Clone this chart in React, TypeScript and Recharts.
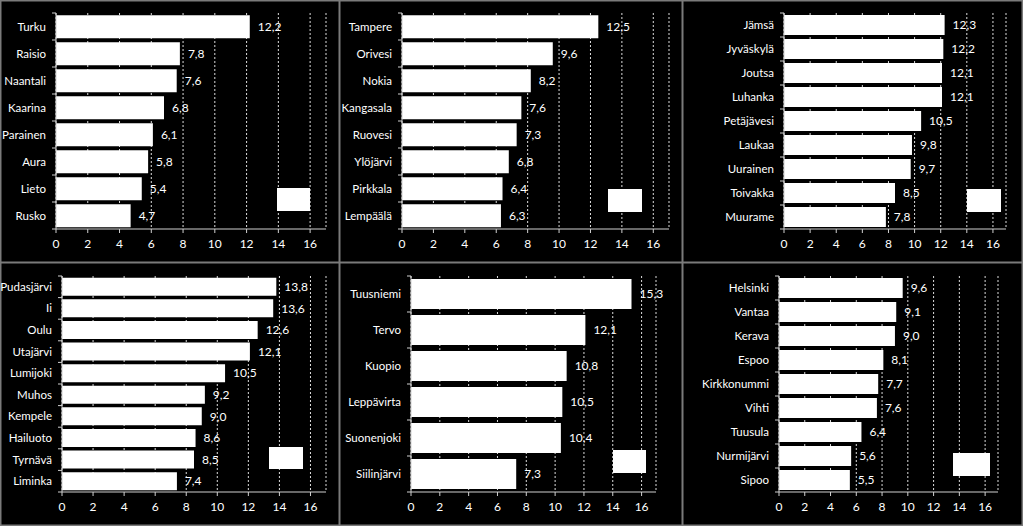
import { BarChart, Bar, XAxis, YAxis, CartesianGrid, LabelList, Legend } from 'recharts'

const turkuNames = ['Turku', 'Raisio', 'Naantali', 'Kaarina', 'Parainen', 'Aura', 'Lieto', 'Rusko']
const turkuValues = [12.2, 7.8, 7.6, 6.8, 6.1, 5.8, 5.4, 4.7]

const tampereNames = ['Tampere', 'Orivesi', 'Nokia', 'Kangasala', 'Ruovesi', 'Ylöjärvi', 'Pirkkala', 'Lempäälä']
const tampereValues = [12.5, 9.6, 8.2, 7.6, 7.3, 6.8, 6.4, 6.3]

const jyvaskylaNames = ['Jämsä', 'Jyväskylä', 'Joutsa', 'Luhanka', 'Petäjävesi', 'Laukaa', 'Uurainen', 'Toivakka', 'Muurame']
const jyvaskylaValues = [12.3, 12.2, 12.1, 12.1, 10.5, 9.8, 9.7, 8.5, 7.8]

const ouluNames = ['Pudasjärvi', 'Ii', 'Oulu', 'Utajärvi', 'Lumijoki', 'Muhos', 'Kempele', 'Hailuoto', 'Tyrnävä', 'Liminka']
const ouluValues = [13.8, 13.6, 12.6, 12.1, 10.5, 9.2, 9.0, 8.6, 8.5, 7.4]

const kuopioNames = ['Tuusniemi', 'Tervo', 'Kuopio', 'Leppävirta', 'Suonenjoki', 'Siilinjärvi']
const kuopioValues = [15.3, 12.1, 10.8, 10.5, 10.4, 7.3]

const helsinkiNames = ['Helsinki', 'Vantaa', 'Kerava', 'Espoo', 'Kirkkonummi', 'Vihti', 'Tuusula', 'Nurmijärvi', 'Sipoo']
const helsinkiValues = [9.6, 9.1, 9.0, 8.1, 7.7, 7.6, 6.4, 5.6, 5.5]

const xTicks = [0, 2, 4, 6, 8, 10, 12, 14, 16]
const xDomain = [0, 17]

const FONT = 'Lato, "Open Sans", sans-serif'
const AXIS = '#d0d0d0'

const panels = [
  { names: turkuNames, values: turkuValues, left: 0, top: 0, width: 340, height: 263, yWidth: 56, mr: 14, mt: 13, mb: 10, legend: { left: 277, top: 188, width: 33, height: 23 } },
  { names: tampereNames, values: tampereValues, left: 339, top: 0, width: 344, height: 263, yWidth: 63, mr: 14, mt: 13, mb: 10, legend: { left: 269, top: 189, width: 34, height: 23 } },
  { names: jyvaskylaNames, values: jyvaskylaValues, left: 682, top: 0, width: 341, height: 263, yWidth: 102, mr: 17, mt: 13, mb: 10, legend: { left: 285, top: 189, width: 34, height: 23 } },
  { names: ouluNames, values: ouluValues, left: 0, top: 262, width: 340, height: 264, yWidth: 62, mr: 14, mt: 14, mb: 10, legend: { left: 269, top: 185, width: 34, height: 22 } },
  { names: kuopioNames, values: kuopioValues, left: 339, top: 262, width: 344, height: 264, yWidth: 72, mr: 27, mt: 14, mb: 10, legend: { left: 274, top: 188, width: 33, height: 23 } },
  { names: helsinkiNames, values: helsinkiValues, left: 682, top: 262, width: 341, height: 264, yWidth: 97, mr: 25, mt: 14, mb: 10, legend: { left: 271, top: 191, width: 37, height: 23 } },
]

const fmt = (v: any) => Number(v).toFixed(1).replace('.', ',')

// category label plus Excel-style tick marks on the band boundaries
function CatTick(props: any) {
  const { x, y, payload, index, visibleTicksCount } = props
  const half = payload?.offset ?? 0
  return (
    <g>
      <line x1={x - 4} x2={x} y1={y - half} y2={y - half} stroke={AXIS} />
      {index === visibleTicksCount - 1 && (
        <line x1={x - 4} x2={x} y1={y + half} y2={y + half} stroke={AXIS} />
      )}
      <text x={x - 10} y={y} dy="0.35em" textAnchor="end" fill="#fff" fontSize={11.5} fontFamily={FONT}>
        {payload.value}
      </text>
    </g>
  )
}

function Panel({ p }: { p: (typeof panels)[number] }) {
  const data = p.names.map((name, i) => ({ name, value: p.values[i] }))
  return (
    <div
      style={{
        position: 'absolute',
        left: p.left,
        top: p.top,
        width: p.width,
        height: p.height,
        boxShadow: 'inset 0 0 0 1.5px #7a7a7a',
      }}
    >
      <BarChart
        width={p.width}
        height={p.height}
        data={data}
        layout="vertical"
        barCategoryGap="8%"
        margin={{ top: p.mt, right: p.mr, bottom: p.mb, left: 0 }}
      >
        <CartesianGrid horizontal={false} stroke="#dcdcdc" strokeDasharray="2 2" />
        <XAxis
          type="number"
          domain={xDomain}
          ticks={xTicks}
          interval={0}
          height={24}
          stroke={AXIS}
          tickSize={4}
          tickMargin={6}
          tick={{ fill: '#fff', fontSize: 12, fontFamily: FONT }}
        />
        <YAxis
          type="category"
          dataKey="name"
          width={p.yWidth}
          stroke={AXIS}
          tickLine={false}
          tickSize={0}
          tickMargin={0}
          interval={0}
          tick={<CatTick />}
        />
        <Legend
          layout="horizontal"
          verticalAlign="middle"
          align="center"
          wrapperStyle={{ left: p.legend.left, top: p.legend.top, width: p.legend.width, height: p.legend.height }}
          content={() => (
            <div style={{ width: p.legend.width, height: p.legend.height, background: '#fff' }} />
          )}
        />
        <Bar dataKey="value" fill="#ffffff" isAnimationActive={false}>
          <LabelList
            dataKey="value"
            position="right"
            offset={8}
            formatter={fmt}
            fill="#fff"
            fontSize={12}
            fontFamily={FONT}
          />
        </Bar>
      </BarChart>
    </div>
  )
}

export default function App() {
  return (
    <div style={{ position: 'absolute', left: 0, top: 0, width: 1023, height: 526, background: '#000', overflow: 'hidden' }}>
      {panels.map((p, i) => (
        <Panel key={i} p={p} />
      ))}
    </div>
  )
}
